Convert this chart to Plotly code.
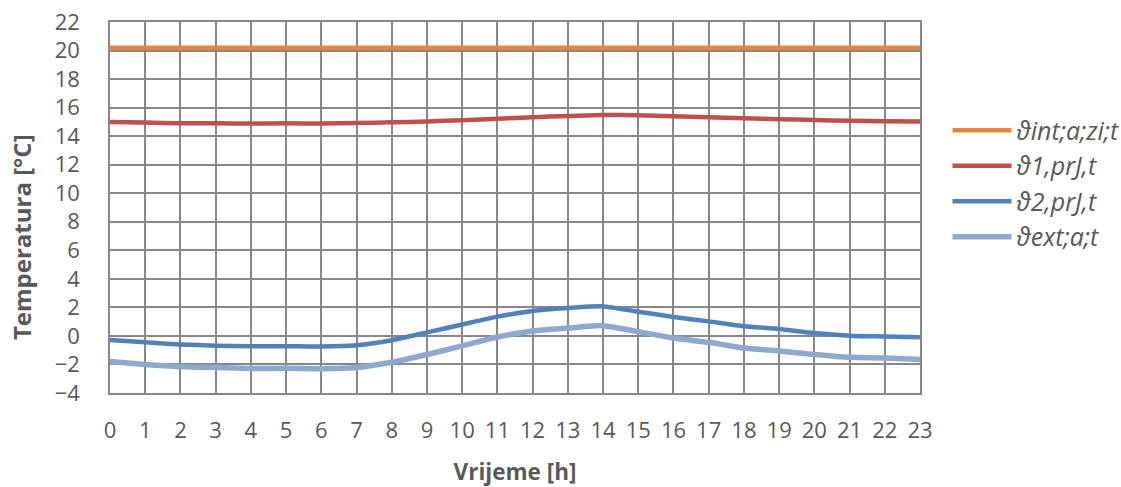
import plotly.graph_objects as go

hours = list(range(24))
x_ticks = [str(h) for h in hours]

theta_int = [20.2] * 24
theta_1 = [15.0, 14.95, 14.9, 14.9, 14.88, 14.9, 14.88, 14.92, 14.97, 15.03, 15.12, 15.22, 15.32, 15.42, 15.48, 15.47, 15.4, 15.33, 15.25, 15.19, 15.13, 15.08, 15.05, 15.03]
theta_2 = [-0.28, -0.45, -0.6, -0.68, -0.72, -0.72, -0.74, -0.65, -0.3, 0.25, 0.8, 1.35, 1.75, 1.95, 2.07, 1.7, 1.33, 1.02, 0.68, 0.48, 0.2, 0.02, -0.04, -0.1]
theta_ext = [-1.8, -2.0, -2.15, -2.22, -2.28, -2.27, -2.3, -2.22, -1.85, -1.3, -0.7, -0.08, 0.35, 0.55, 0.72, 0.3, -0.15, -0.45, -0.85, -1.05, -1.3, -1.5, -1.55, -1.65]

series = [
    ("ϑint;a;zi;t", theta_int, "#E8853D", 4.5),
    ("ϑ1,prJ,t", theta_1, "#C0504D", 4.5),
    ("ϑ2,prJ,t", theta_2, "#4F81BD", 4.5),
    ("ϑext;a;t", theta_ext, "#8EA8D1", 5.5),
]

fig = go.Figure()
for name, vals, color, w in series:
    fig.add_trace(go.Scatter(
        x=hours, y=vals, mode="lines", name=name,
        line=dict(color=color, width=w, shape="spline", smoothing=0.6),
    ))

font_fam = "'Open Sans', sans-serif"
grid_col = "#878787"
txt_col = "#595959"

fig.update_layout(
    width=1121, height=487,
    margin=dict(l=110, r=201, t=22, b=94, autoexpand=False),
    paper_bgcolor="white", plot_bgcolor="white",
    font=dict(family=font_fam, size=22, color=txt_col),
    legend=dict(
        x=1.034, y=0.565, xanchor="left", yanchor="middle",
        font=dict(size=25, color=txt_col, style="italic"),
        itemwidth=59,
        bgcolor="rgba(0,0,0,0)",
    ),
    showlegend=True,
    annotations=[dict(
        text="<b>Temperatura [°C]</b>", textangle=-90,
        xref="paper", yref="paper", x=-0.11, y=0.42,
        xanchor="center", yanchor="middle", showarrow=False,
        font=dict(size=24, color=txt_col),
    )],
)

fig.update_xaxes(
    range=[0, 23], tickmode="array", tickvals=hours, ticktext=x_ticks,
    showgrid=True, gridcolor=grid_col, gridwidth=1.5,
    showline=True, linecolor=grid_col, linewidth=1.5, mirror=True,
    zeroline=False, ticks="", ticklabelstandoff=17, automargin=False,
    tickfont=dict(size=22, color=txt_col),
    title=dict(text="<b>Vrijeme [h]</b>", font=dict(size=22.5, color=txt_col), standoff=26),
)
fig.update_yaxes(
    range=[-4, 22], tickmode="linear", tick0=-4, dtick=2,
    showgrid=True, gridcolor=grid_col, gridwidth=1.5,
    showline=True, linecolor=grid_col, linewidth=1.5, mirror=True,
    zeroline=False, ticks="", ticklabelstandoff=24, automargin=False,
    tickfont=dict(size=22, color=txt_col),
)

fig.write_html("out.html", config={"displayModeBar": False},
               post_script="document.body.style.margin='0';document.body.style.padding='0';")
